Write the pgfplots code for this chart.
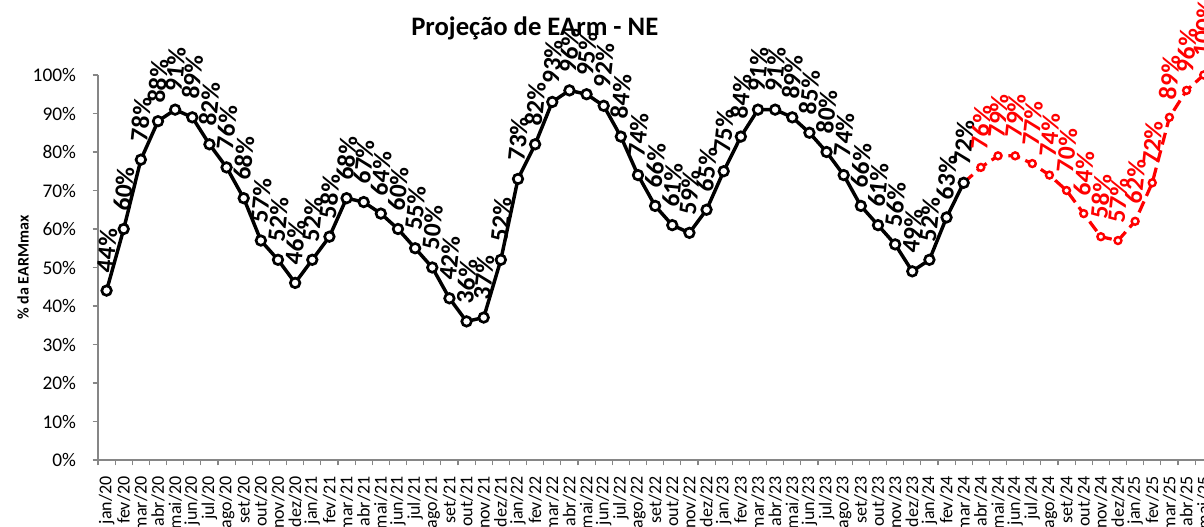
\documentclass[border=0pt]{standalone}
\usepackage{graphicx}
\usepackage{pgfplots}
\pgfplotsset{compat=1.18}
\usepackage{pgfplotstable}
\usepackage{fontspec}
\setmainfont{Carlito}
\definecolor{axgray}{RGB}{134,134,134}
\pgfplotstableread{
x y
0 44
1 60
2 78
3 88
4 91
5 89
6 82
7 76
8 68
9 57
10 52
11 46
12 52
13 58
14 68
15 67
16 64
17 60
18 55
19 50
20 42
21 36
22 37
23 52
24 73
25 82
26 93
27 96
28 95
29 92
30 84
31 74
32 66
33 61
34 59
35 65
36 75
37 84
38 91
39 91
40 89
41 85
42 80
43 74
44 66
45 61
46 56
47 49
48 52
49 63
50 72
}\hist
\pgfplotstableread{
x y
50 72
51 76
52 79
53 79
54 77
55 74
56 70
57 64
58 58
59 57
60 62
61 72
62 89
63 96
64 100
}\proj
\begin{document}
\begin{tikzpicture}
\begin{axis}[
  at={(73.5pt,50.25pt)}, anchor=south west,
  scale only axis, width=835.7pt, height=288.75pt,
  xmin=-0.5, xmax=64.5, ymin=0, ymax=100,
  clip=false,
  axis x line*=bottom, axis y line*=left,
  axis line style={draw=axgray, line width=0.8pt},
  tick align=outside,
  xtick={0,...,64},
  xticklabels={jan/20,fev/20,mar/20,abr/20,mai/20,jun/20,jul/20,ago/20,set/20,out/20,nov/20,dez/20,
    jan/21,fev/21,mar/21,abr/21,mai/21,jun/21,jul/21,ago/21,set/21,out/21,nov/21,dez/21,
    jan/22,fev/22,mar/22,abr/22,mai/22,jun/22,jul/22,ago/22,set/22,out/22,nov/22,dez/22,
    jan/23,fev/23,mar/23,abr/23,mai/23,jun/23,jul/23,ago/23,set/23,out/23,nov/23,dez/23,
    jan/24,fev/24,mar/24,abr/24,mai/24,jun/24,jul/24,ago/24,set/24,out/24,nov/24,dez/24,
    jan/25,fev/25,mar/25,abr/25,mai/25},
  major x tick style={draw=none},
  minor xtick={-0.5,0.5,...,64.5},
  minor x tick style={draw=axgray, line width=0.8pt},
  minor tick length=4pt,
  xticklabel shift=5pt,
  x tick label style={rotate=90, anchor=east, font=\fontsize{13.5}{13.5}\selectfont},
  ytick={0,10,...,100},
  yticklabel={\pgfmathprintnumber{\tick}\%},
  /pgf/number format/assume math mode=true,
  y tick style={draw=axgray, line width=0.8pt},
  major tick length=4pt,
  yticklabel shift=9pt,
  y tick label style={font=\fontsize{14.5}{14.5}\selectfont},
  ylabel={\% da EARMmax},
  ylabel style={at={(axis description cs:-0.0673,0.5)}, anchor=center, font=\bfseries\fontsize{12}{12}\selectfont},
  title={Projeção de EArm - NE},
  title style={at={(axis description cs:0.392,1.099)}, anchor=center, yshift=0pt, font=\bfseries\fontsize{20}{20}\selectfont},
]
\addplot[black, line width=2.6pt, mark=*, mark size=3.6pt,
  mark options={fill=white, draw=black, line width=2pt, solid},
  nodes near coords={\rotatebox{84}{\pgfmathprintnumber[assume math mode=true]{\pgfplotspointmeta}\%}},
  every node near coord/.append style={text=black, inner sep=0pt, font=\bfseries\fontsize{19}{19}\selectfont, yshift=12pt}
] table[x=x, y=y] {\hist};
\addplot[red, line width=2.4pt, dash pattern=on 9pt off 4.5pt, mark=none] table[x=x, y=y] {\proj};
\addplot[red, only marks, mark=*, mark size=2.6pt,
  mark options={fill=white, draw=red, line width=1.8pt, solid},
  skip coords between index={0}{1},
  nodes near coords={\rotatebox{84}{\pgfmathprintnumber[assume math mode=true]{\pgfplotspointmeta}\%}},
  every node near coord/.append style={text=red, inner sep=0pt, font=\bfseries\fontsize{19}{19}\selectfont, yshift=12pt}
] table[x=x, y=y] {\proj};
\end{axis}
\pgfresetboundingbox
\path[use as bounding box] (0,0) rectangle (903pt,395.25pt);
\end{tikzpicture}
\end{document}
